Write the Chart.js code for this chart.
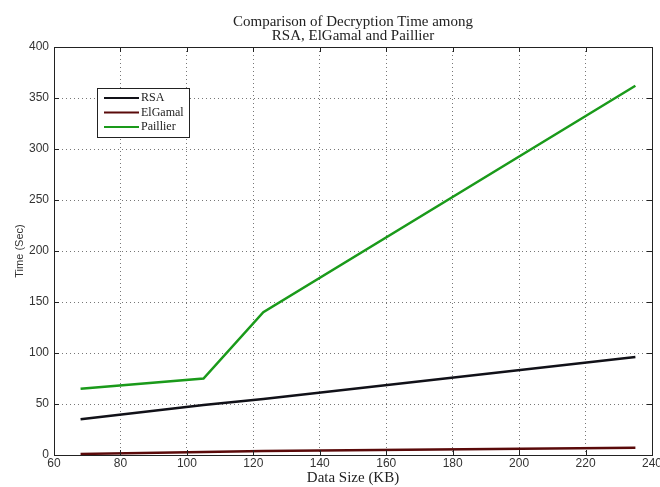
<!DOCTYPE html>
<html>
<head>
<meta charset="utf-8">
<script src="https://cdn.jsdelivr.net/npm/chart.js@4/dist/chart.umd.min.js"></script>
<style>
  html, body { margin: 0; padding: 0; background: #fff; }
  #wrap { width: 660px; height: 487px; }
</style>
</head>
<body>
<div id="wrap"><canvas id="c" width="660" height="487"></canvas></div>
<script>
// Data size (KB) at each measurement
const dataSizes = [68, 105, 123, 235];
// Decryption time (sec) per scheme
const rsaTimes      = [35, 49, 55, 96];
const elgamalTimes  = [1, 3, 4, 7];
const paillierTimes = [65, 75, 140, 362];

const seriesNames = ['RSA', 'ElGamal', 'Paillier'];
const titleLines = ['Comparison of Decryption Time among', 'RSA, ElGamal and Paillier'];
const xTitle = 'Data Size (KB)';
const yTitle = 'Time (Sec)';

const toPoints = ys => dataSizes.map((x, i) => ({ x, y: ys[i] }));

const SERIF = '"Liberation Serif", "Times New Roman", serif';
const SANS = '"Liberation Sans", Arial, sans-serif';

// Serif text drawn slightly widened, like the classic bitmap Times face
function wideText(ctx, text, cx, baseline, sx) {
  ctx.save();
  ctx.translate(cx, baseline);
  ctx.scale(sx, 1);
  ctx.fillText(text, 0, 0);
  ctx.restore();
}

// Frame, inward ticks, title, axis titles and boxed legend
const decor = {
  id: 'decor',
  afterDraw(chart) {
    const { ctx, chartArea: a, scales: { x, y } } = chart;
    ctx.save();
    ctx.strokeStyle = '#222';
    ctx.lineWidth = 1;
    ctx.setLineDash([]);
    // box
    ctx.strokeRect(Math.round(a.left) + 0.5, Math.round(a.top) + 0.5,
                   Math.round(a.right - a.left), Math.round(a.bottom - a.top));
    // inward ticks
    const tl = 5;
    ctx.beginPath();
    x.ticks.forEach(t => {
      const px = Math.round(x.getPixelForValue(t.value)) + 0.5;
      ctx.moveTo(px, a.bottom); ctx.lineTo(px, a.bottom - tl);
      ctx.moveTo(px, a.top); ctx.lineTo(px, a.top + tl);
    });
    y.ticks.forEach(t => {
      const py = Math.round(y.getPixelForValue(t.value)) + 0.5;
      ctx.moveTo(a.left, py); ctx.lineTo(a.left + tl, py);
      ctx.moveTo(a.right, py); ctx.lineTo(a.right - tl, py);
    });
    ctx.stroke();

    const cx = (a.left + a.right) / 2;
    // title
    ctx.fillStyle = '#222';
    ctx.font = '14px ' + SERIF;
    ctx.textAlign = 'center';
    ctx.textBaseline = 'alphabetic';
    wideText(ctx, titleLines[0], cx, 26, 1.07);
    wideText(ctx, titleLines[1], cx, 40, 1.07);
    // x title
    wideText(ctx, xTitle, cx, 482, 1.07);
    // y title
    ctx.save();
    ctx.translate(20, (a.top + a.bottom) / 2);
    ctx.rotate(-Math.PI / 2);
    ctx.font = '11px ' + SANS;
    ctx.fillStyle = '#333';
    ctx.textBaseline = 'middle';
    ctx.fillText(yTitle, 0, 0);
    ctx.restore();

    // legend
    const lx = 97, ly = 88, lw = 92, lh = 49;
    ctx.fillStyle = '#fff';
    ctx.fillRect(lx, ly, lw, lh);
    ctx.strokeStyle = '#222';
    ctx.lineWidth = 1;
    ctx.strokeRect(lx + 0.5, ly + 0.5, lw, lh);
    ctx.font = '12px ' + SERIF;
    ctx.textAlign = 'left';
    ctx.textBaseline = 'middle';
    chart.data.datasets.forEach((ds, i) => {
      const yy = ly + 10 + i * 14.5;
      ctx.strokeStyle = ds.borderColor;
      ctx.lineWidth = 2;
      ctx.beginPath();
      ctx.moveTo(104, yy); ctx.lineTo(139, yy);
      ctx.stroke();
      ctx.fillStyle = '#222';
      ctx.fillText(ds.label, 141, yy);
    });
    ctx.restore();
  }
};

new Chart(document.getElementById('c'), {
  type: 'line',
  data: {
    datasets: [
      { label: seriesNames[0], data: toPoints(rsaTimes), borderColor: '#111118', borderWidth: 2.5 },
      { label: seriesNames[1], data: toPoints(elgamalTimes), borderColor: '#5a0a0a', borderWidth: 2.5 },
      { label: seriesNames[2], data: toPoints(paillierTimes), borderColor: '#1a9a1a', borderWidth: 2.5 }
    ]
  },
  options: {
    responsive: false,
    animation: false,
    events: [],
    layout: { padding: { top: 47, right: 8, left: 0, bottom: 0 } },
    elements: { point: { radius: 0 }, line: { tension: 0 } },
    plugins: { legend: { display: false }, title: { display: false }, tooltip: { enabled: false } },
    scales: {
      x: {
        type: 'linear', min: 60, max: 240,
        ticks: { stepSize: 20, color: '#333', font: { family: SANS, size: 12 }, padding: 1, maxRotation: 0 },
        grid: { color: '#777', lineWidth: 1, drawTicks: false },
        border: { display: false, dash: [1, 3] },
        afterFit: s => { s.height = 32; s.paddingRight = 8; }
      },
      y: {
        min: 0, max: 400,
        ticks: { stepSize: 50, color: '#333', font: { family: SANS, size: 12 }, padding: 5 },
        grid: { color: '#777', lineWidth: 1, drawTicks: false },
        border: { display: false, dash: [1, 3] },
        afterFit: s => { s.width = 54; }
      }
    }
  },
  plugins: [decor]
});
</script>
</body>
</html>
